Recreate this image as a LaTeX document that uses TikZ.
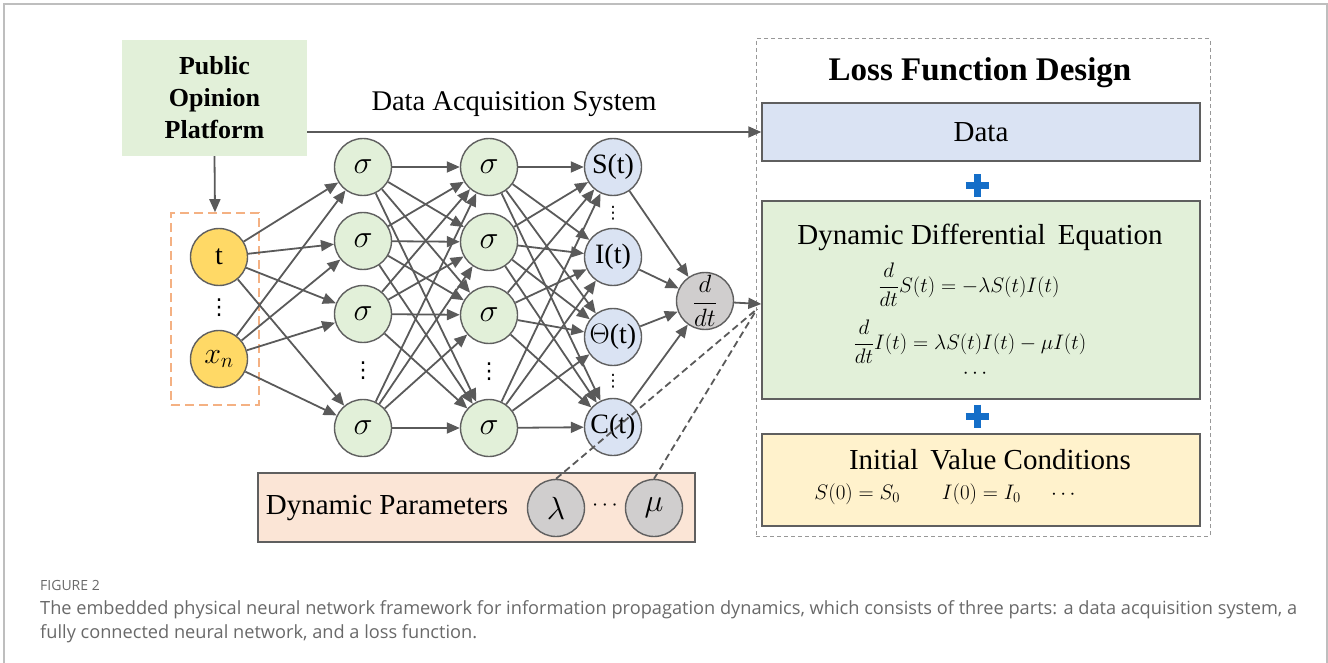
\RequirePackage{fix-cm}
\documentclass[tikz,border=0pt]{standalone}
\usepackage{fontspec}
\setmainfont{Liberation Serif}
\newfontfamily\capfont{Open Sans}
\newfontfamily\symfont{DejaVu Sans}
\usetikzlibrary{arrows.meta,calc}

\definecolor{framegray}{RGB}{190,190,190}
\definecolor{edgegray}{RGB}{95,95,95}
\definecolor{linkgray}{RGB}{90,90,90}
\definecolor{greenfill}{RGB}{226,240,217}
\definecolor{bluefill}{RGB}{218,227,243}
\definecolor{yellowfill}{RGB}{255,242,204}
\definecolor{peachfill}{RGB}{251,229,214}
\definecolor{inputfill}{RGB}{255,217,102}
\definecolor{grayfill}{RGB}{208,206,206}
\definecolor{orangedash}{RGB}{244,177,131}
\definecolor{plusblue}{RGB}{20,110,200}
\definecolor{capgray}{RGB}{105,105,105}

\begin{document}
\begin{tikzpicture}[x=1pt,y=-1pt,
  neuron/.style={circle, draw=edgegray, line width=1.4pt, minimum size=57pt,
    inner sep=0pt, font=\fontsize{28}{30}\selectfont},
  inneuron/.style={neuron, fill=inputfill},
  signeuron/.style={neuron, fill=greenfill, font=\fontsize{32}{34}\selectfont},
  outneuron/.style={neuron, fill=bluefill},
  parneuron/.style={neuron, fill=grayfill, font=\fontsize{32}{34}\selectfont},
  dotsnode/.style={inner sep=0pt, font=\symfont\fontsize{22}{22}\selectfont},
  panel/.style={rectangle, draw=edgegray, line width=1.4pt, inner sep=0pt},
  link/.style={draw=linkgray, line width=1.8pt,
    -{Triangle[length=13pt,width=11pt]}},
  paramlink/.style={draw=linkgray, line width=1.8pt, dashed,
    dash pattern=on 7pt off 4pt},
  plussign/.style={draw=plusblue, line width=7pt},
  bodytext/.style={inner sep=0pt, font=\fontsize{29}{34}\selectfont},
  eqtext/.style={inner sep=0pt, font=\fontsize{21}{24}\selectfont},
  captext/.style={inner sep=0pt, anchor=base west, text=capgray,
    font=\capfont\fontsize{18.2}{22}\selectfont}
]
\useasboundingbox (0,0) rectangle (1328,663);

% outer frame of the figure panel
\draw[framegray, line width=1.5pt] (4,663) -- (4,4) -- (1327,4) -- (1327,663);

% ---------- data source ----------
\node[rectangle, fill=greenfill, minimum width=185pt, minimum height=116pt,
  inner sep=0pt] (pop) at (214.5,98) {};
\node[align=center, inner sep=0pt, font=\bfseries\fontsize{26}{32}\selectfont]
  (poptext) at (214.5,98) {Public\\Opinion\\Platform};

% input layer
\node[rectangle, draw=orangedash, line width=1.6pt, dashed,
  dash pattern=on 9pt off 5pt, minimum width=88pt, minimum height=192pt,
  inner sep=0pt] (inbox) at (215,309) {};
\node[inneuron] (t) at (219,257) {t};
\node[inneuron, font=\fontsize{30}{32}\selectfont] (xn) at (219,359) {$x_n$};
\node[dotsnode] (tdots) at (219,308) {⋮};

% hidden layer 1
\node[signeuron] (a1) at (363,167) {$\sigma$};
\node[signeuron] (a2) at (363,241) {$\sigma$};
\node[signeuron] (a3) at (363,314) {$\sigma$};
\node[signeuron] (a4) at (363,428) {$\sigma$};
\node[dotsnode] (adots) at (363,371) {⋮};

% hidden layer 2
\node[signeuron] (b1) at (489,167) {$\sigma$};
\node[signeuron] (b2) at (489,242) {$\sigma$};
\node[signeuron] (b3) at (489,315) {$\sigma$};
\node[signeuron] (b4) at (489,428) {$\sigma$};
\node[dotsnode] (bdots) at (489,372) {⋮};

% output layer
\node[outneuron] (c1) at (613,167) {S(t)};
\node[outneuron] (c2) at (613,257) {I(t)};
\node[outneuron] (c3) at (613,337) {$\Theta$(t)};
\node[outneuron] (c4) at (613,427) {C(t)};
\node[dotsnode, font=\symfont\fontsize{17}{17}\selectfont] (cdots1) at (613,213) {⋮};
\node[dotsnode, font=\symfont\fontsize{17}{17}\selectfont] (cdots2) at (613,381) {⋮};

% derivative operator
\node[parneuron, font=\fontsize{25}{26}\selectfont] (ddt) at (705,301)
  {$\displaystyle\frac{d}{dt}$};

% ---------- connections ----------
\foreach \s in {t,xn}
  \foreach \d in {a1,a2,a3,a4}
    \draw[link] (\s) -- (\d);
\foreach \s in {a1,a2,a3,a4}
  \foreach \d in {b1,b2,b3,b4}
    \draw[link] (\s) -- (\d);
\foreach \s in {b1,b2,b3,b4}
  \foreach \d in {c1,c2,c3,c4}
    \draw[link] (\s) -- (\d);
\foreach \s in {c1,c2,c3,c4}
  \draw[link] (\s) -- (ddt);

\draw[link] (pop.south) -- (inbox.north);

% ---------- loss function design ----------
\node[rectangle, draw=framegray!80!black, line width=1pt, dashed,
  dash pattern=on 4pt off 3pt, minimum width=454pt, minimum height=497pt,
  inner sep=0pt] (loss) at (983,287.5) {};
\node[inner sep=0pt, font=\bfseries\fontsize{33}{38}\selectfont]
  (losstitle) at (980,73) {Loss Function Design};

\node[panel, fill=bluefill, minimum width=438pt, minimum height=58pt]
  (data) at (981,132) {};
\node[bodytext] (datatext) at (981,132) {Data};

\node[panel, fill=greenfill, minimum width=438pt, minimum height=198pt]
  (dde) at (981,300) {};
\node[bodytext] (ddetitle) at (980,237) {Dynamic Differential\, Equation};
\node[eqtext] (eqS) at (969,285)
  {$\displaystyle\frac{d}{dt}S(t) = -\lambda S(t)I(t)$};
\node[eqtext] (eqI) at (970,342)
  {$\displaystyle\frac{d}{dt}I(t) = \lambda S(t)I(t) - \mu I(t)$};
\node[eqtext] (eqdots) at (975,374) {$\cdots$};

\node[panel, fill=yellowfill, minimum width=438pt, minimum height=92pt]
  (ivc) at (981,480) {};
\node[bodytext] (ivctitle) at (990,460) {Initial\, Value Conditions};
\node[eqtext] (ivceq) at (945,494)
  {$S(0) = S_0 \qquad I(0) = I_0 \quad\; \cdots$};

\draw[plussign] (977,174.5) -- (977,197.5);
\draw[plussign] (965.5,186) -- (988.5,186);
\draw[plussign] (977,404.5) -- (977,427.5);
\draw[plussign] (965.5,416) -- (988.5,416);

% data acquisition path
\draw[link] (pop.east |- data.west) -- (data.west);
\node[bodytext, font=\fontsize{28.5}{32}\selectfont] (acq) at (514,104)
  {Data Acquisition System};

% ---------- dynamic parameters ----------
\node[panel, fill=peachfill, minimum width=437pt, minimum height=69pt]
  (params) at (476.5,507.5) {};
\node[bodytext] (paramtext) at (387,508) {Dynamic Parameters};
\node[parneuron] (lam) at (556,508) {$\lambda$};
\node[parneuron] (mu) at (654,508) {$\mu$};
\node[inner sep=0pt, font=\fontsize{22}{24}\selectfont] (pdots) at (605,506) {$\cdots$};

\coordinate (conv) at (757,309);
\draw[link] (ddt) -- ($(dde.west)+(0,4)$);
\draw[paramlink] (lam.north) -- (conv);
\draw[paramlink] (mu.north) -- (conv);

% ---------- caption ----------
\node[captext, font=\capfont\fontsize{14}{16}\selectfont] (figlabel)
  at (40,590) {FIGURE 2};
\node[captext] (cap1) at (40,614) {The embedded physical neural network
  framework for information propagation dynamics, which consists of three
  parts: a data acquisition system, a};
\node[captext] (cap2) at (40,638) {fully connected neural network, and a
  loss function.};
\end{tikzpicture}
\end{document}
